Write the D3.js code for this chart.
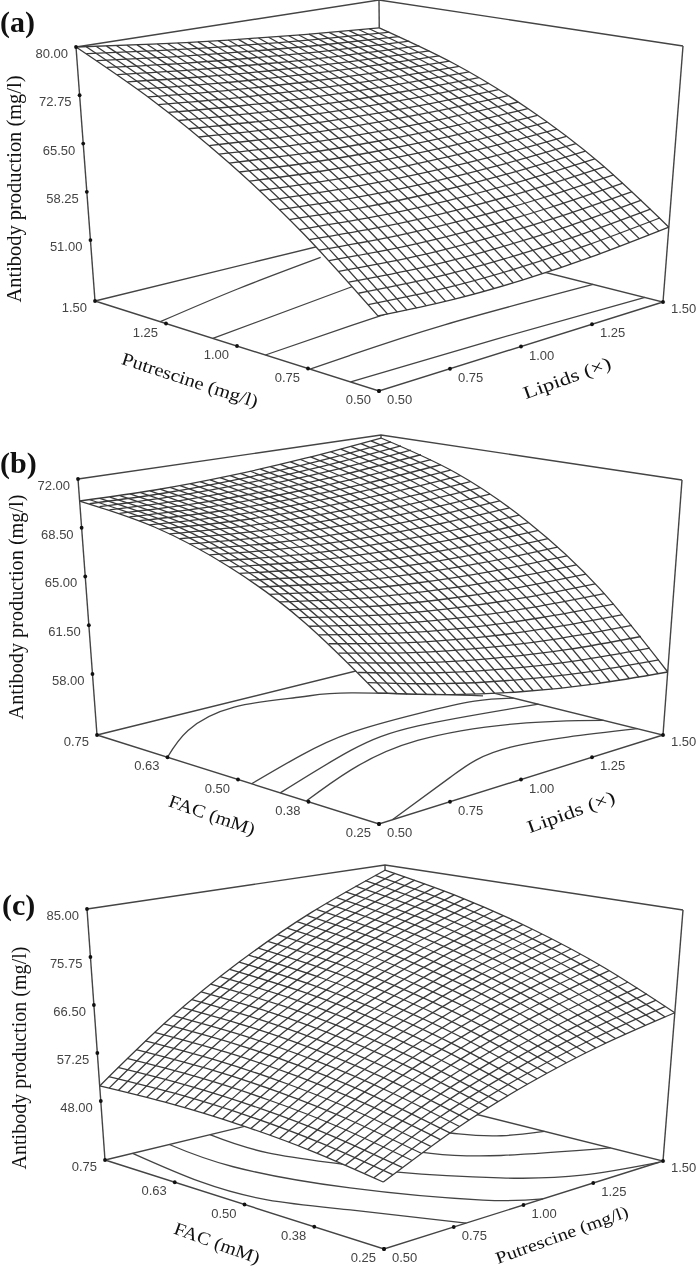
<!DOCTYPE html>
<html>
<head>
<meta charset="utf-8">
<script src="https://cdn.jsdelivr.net/npm/d3@7"></script>
<style>
    body { margin: 0; background: #fff; }
    svg { display: block; filter: blur(0.35px); }
    .tick-label { font-family: "Liberation Sans", Arial, sans-serif; font-size: 13px; fill: #444; }
    .title { font-family: "Liberation Serif", "Times New Roman", serif; fill: #111; }
    .panel { font-family: "Liberation Serif", "Times New Roman", serif; font-size: 30px; font-weight: bold; fill: #111; }
</style>
</head>
<body>
<script>
// Heights are estimates. Corners and outline were read off the picture, the
// inside of each surface was judged from those by eye, not measured per crossing.
// Each row is one mesh line, with heights at the five tick positions of its axis.

var ticks05 = [0.5, 0.75, 1, 1.25, 1.5];
var ticksFac = [0.25, 0.375, 0.5, 0.625, 0.75];
var labels05 = ["0.50", "0.75", "1.00", "1.25", "1.50"];
var labelsFac = ["0.25", "0.38", "0.50", "0.63", "0.75"];

var zTicksA = [51, 58.25, 65.5, 72.75, 80];
var zTicksB = [58, 61.5, 65, 68.5, 72];
var zTicksC = [48, 57.25, 66.5, 75.75, 85];

// (a) lines of constant putrescine, heights along lipids
var meshA_lipids = [
[51.90,51.28,51.25,51.83,53.00],[53.06,52.44,52.39,52.94,54.06],[54.22,53.59,53.52,54.02,55.09],[55.36,54.71,54.62,55.08,56.10],
[56.48,55.82,55.72,56.14,57.10],[57.59,56.92,56.78,57.16,58.07],[58.67,58.00,57.83,58.17,59.02],[59.75,59.06,58.86,59.15,59.94],
[60.80,60.09,59.87,60.12,60.85],[61.84,61.12,60.86,61.07,61.74],[62.86,62.13,61.83,62.00,62.60],[63.87,63.12,62.79,62.89,63.44],
[64.87,64.09,63.73,63.78,64.26],[65.84,65.04,64.65,64.65,65.06],[66.81,65.98,65.55,65.50,65.84],[67.75,66.90,66.43,66.32,66.60],
[68.68,67.80,67.29,67.13,67.34],[69.59,68.69,68.14,67.92,68.05],[70.49,69.56,68.96,68.69,68.74],[71.36,70.41,69.76,69.43,69.42],
[72.23,71.24,70.55,70.16,70.07],[73.08,72.06,71.32,70.87,70.70],[73.91,72.86,72.07,71.55,71.30],[74.73,73.64,72.80,72.22,71.89],
[75.53,74.40,73.52,72.87,72.46],[76.32,75.15,74.21,73.49,73.00],[77.08,75.88,74.89,74.09,73.52],[77.84,76.59,75.54,74.68,74.02],
[78.57,77.28,76.18,75.25,74.50],[79.29,77.96,76.80,75.80,74.96],[80.00,78.63,77.40,76.33,75.40]
];
// (a) lines of constant lipids, heights along putrescine
var meshA_putrescine = [
[51.90,60.28,67.75,74.33,80.00],[51.78,60.15,67.61,74.17,79.81],[51.67,60.04,67.49,74.01,79.61],[51.58,59.94,67.36,73.86,79.43],
[51.49,59.84,67.25,73.72,79.25],[51.42,59.76,67.15,73.58,79.07],[51.35,59.67,67.04,73.44,78.89],[51.30,59.61,66.95,73.31,78.71],
[51.25,59.54,66.86,73.18,78.53],[51.22,59.49,66.78,73.07,78.37],[51.20,59.45,66.70,72.95,78.20],[51.19,59.42,66.64,72.83,78.04],
[51.19,59.39,66.57,72.73,77.87],[51.20,59.37,66.52,72.63,77.71],[51.22,59.36,66.47,72.53,77.56],[51.25,59.36,66.43,72.44,77.40],
[51.29,59.37,66.39,72.35,77.25],[51.34,59.38,66.36,72.27,77.09],[51.41,59.42,66.34,72.19,76.95],[51.48,59.45,66.32,72.11,76.81],
[51.57,59.50,66.32,72.05,76.67],[51.66,59.54,66.32,71.98,76.53],[51.77,59.61,66.32,71.92,76.39],[51.88,59.67,66.33,71.86,76.25],
[52.01,59.75,66.35,71.81,76.13],[52.15,59.84,66.37,71.77,76.00],[52.30,59.93,66.41,71.72,75.88],[52.46,60.04,66.44,71.68,75.75],
[52.63,60.15,66.49,71.65,75.63],[52.81,60.27,66.55,71.62,75.52],[53.00,60.40,66.60,71.60,75.40]
];
var contoursA = [
[[0.5,1.27],[0.85,1.35],[1.21,1.42]],
[[0.5,1.085],[1.06,1.17],[1.3,1.2]],
[[0.5,0.90],[0.83,0.93],[1.2,0.96]],
[[0.5,0.743],[0.65,0.754],[1,0.77],[1.5,0.748]],
[[0.5,0.6],[1,0.59],[1.5,0.564]]
];

// (b) lines of constant FAC, heights along lipids
var meshB_lipids = [
[62.04,60.70,59.60,58.76,58.16],[62.55,61.26,60.22,59.42,58.88],[63.04,61.81,60.82,60.08,59.59],[63.52,62.34,61.41,60.71,60.28],
[63.99,62.85,61.97,61.33,60.94],[64.44,63.35,62.51,61.93,61.59],[64.87,63.84,63.04,62.51,62.22],[65.28,64.30,63.56,63.08,62.84],
[65.69,64.75,64.06,63.62,63.43],[66.07,65.18,64.53,64.15,64.00],[66.43,65.59,65.00,64.66,64.56],[66.79,66.00,65.45,65.15,65.10],
[67.12,66.37,65.88,65.62,65.62],[67.44,66.74,66.28,66.07,66.12],[67.75,67.08,66.68,66.51,66.60],[68.03,67.42,67.05,66.93,67.06],
[68.30,67.72,67.40,67.32,67.50],[68.56,68.03,67.74,67.71,67.93],[68.79,68.30,68.07,68.08,68.34],[69.02,68.57,68.38,68.42,68.72],
[69.23,68.82,68.66,68.76,69.09],[69.42,69.05,68.93,69.06,69.44],[69.60,69.27,69.19,69.36,69.78],[69.75,69.46,69.42,69.64,70.09],
[69.90,69.65,69.64,69.88,70.38],[70.02,69.80,69.84,70.13,70.66],[70.13,69.95,70.03,70.35,70.92],[70.23,70.09,70.20,70.55,71.16],
[70.31,70.21,70.35,70.74,71.38],[70.37,70.30,70.48,70.90,71.58],[70.42,70.38,70.59,71.05,71.76]
];
// (b) lines of constant lipids, heights along FAC
var meshB_fac = [
[62.04,65.49,68.03,69.68,70.42],[61.85,65.35,67.94,69.62,70.40],[61.66,65.20,67.84,69.57,70.39],[61.47,65.07,67.75,69.52,70.37],
[61.29,64.95,67.67,69.48,70.37],[61.12,64.82,67.59,69.44,70.37],[60.94,64.70,67.52,69.41,70.37],[60.78,64.58,67.45,69.38,70.38],
[60.61,64.47,67.38,69.36,70.39],[60.46,64.36,67.32,69.34,70.40],[60.30,64.26,67.27,69.32,70.42],[60.15,64.16,67.21,69.30,70.45],
[60.01,64.07,67.16,69.30,70.48],[59.87,63.98,67.12,69.30,70.51],[59.73,63.89,67.08,69.30,70.55],[59.60,63.81,67.05,69.30,70.59],
[59.47,63.74,67.02,69.32,70.64],[59.35,63.67,66.99,69.33,70.69],[59.23,63.60,66.97,69.35,70.74],[59.12,63.53,66.96,69.37,70.81],
[59.01,63.48,66.94,69.41,70.87],[58.90,63.42,66.93,69.44,70.94],[58.80,63.37,66.93,69.48,71.01],[58.71,63.32,66.93,69.51,71.09],
[58.62,63.29,66.93,69.57,71.17],[58.53,63.25,66.95,69.62,71.26],[58.45,63.22,66.96,69.67,71.35],[58.37,63.19,66.98,69.73,71.45],
[58.30,63.17,67.00,69.80,71.55],[58.23,63.15,67.03,69.87,71.65],[58.16,63.14,67.06,69.94,71.76]
];
var contoursB = [
[[0.5,0.625],[0.706,0.692],[0.945,0.73],[1.135,0.708],[1.254,0.678],[1.464,0.55]],
[[0.5,0.476],[0.762,0.52],[0.994,0.548],[1.235,0.55],[1.414,0.54],[1.5,0.514]],
[[0.5,0.425],[0.882,0.492],[1.155,0.51],[1.5,0.47]],
[[0.5,0.379],[0.762,0.432],[1.062,0.464],[1.34,0.426],[1.5,0.355]],
[[0.547,0.25],[0.895,0.322],[1.179,0.358],[1.5,0.295]]
];

// (c) lines of constant FAC, heights along putrescine
var meshC_putrescine = [
[48.15,53.84,58.58,62.36,65.20],[48.44,54.29,59.18,63.10,66.08],[48.71,54.72,59.76,63.84,66.95],[48.97,55.14,60.33,64.55,67.79],
[49.21,55.54,60.88,65.24,68.62],[49.44,55.93,61.42,65.92,69.43],[49.66,56.30,61.94,66.58,70.22],[49.86,56.66,62.44,67.23,70.99],
[50.06,57.01,62.94,67.85,71.75],[50.24,57.34,63.42,68.47,72.49],[50.40,57.65,63.87,69.06,73.21],[50.55,57.96,64.32,69.65,73.92],
[50.69,58.24,64.75,70.20,74.60],[50.82,58.52,65.16,70.75,75.27],[50.93,58.78,65.56,71.27,75.92],[51.03,59.03,65.94,71.78,76.55],
[51.11,59.25,66.30,72.27,77.16],[51.18,59.47,66.65,72.75,77.76],[51.24,59.67,66.99,73.22,78.34],[51.28,59.85,67.31,73.65,78.90],
[51.32,60.03,67.61,74.09,79.44],[51.34,60.19,67.91,74.50,79.97],[51.34,60.33,68.18,74.90,80.48],[51.33,60.46,68.43,75.28,80.97],
[51.31,60.57,68.68,75.63,81.44],[51.28,60.67,68.90,75.98,81.89],[51.23,60.76,69.11,76.31,82.33],[51.17,60.84,69.31,76.63,82.75],
[51.09,60.88,69.49,76.91,83.15],[51.00,60.93,69.65,77.20,83.54],[50.90,60.95,69.80,77.45,83.90]
];
// (c) lines of constant putrescine, heights along FAC
var meshC_fac = [
[48.15,49.96,51.03,51.34,50.90],[48.96,50.93,52.16,52.61,52.31],[49.76,51.89,53.27,53.87,53.70],[50.54,52.84,54.35,55.10,55.06],
[51.30,53.75,55.43,56.31,56.41],[52.05,54.66,56.47,57.50,57.74],[52.78,55.54,57.51,58.67,59.04],[53.49,56.40,58.53,59.83,60.32],
[54.18,57.25,59.52,60.96,61.58],[54.86,58.08,60.49,62.07,62.82],[55.52,58.90,61.45,63.16,64.04],[56.17,59.69,62.38,64.23,65.23],
[56.79,60.47,63.30,65.28,66.40],[57.40,61.23,64.21,66.31,67.56],[58.00,61.97,65.08,67.32,68.69],[58.58,62.69,65.94,68.31,69.80],
[59.14,63.40,66.78,69.28,70.89],[59.68,64.08,67.61,70.23,71.96],[60.20,64.76,68.40,71.16,73.00],[60.71,65.40,69.19,72.06,74.03],
[61.21,66.04,69.95,72.95,75.04],[61.68,66.65,70.70,73.82,76.02],[62.14,67.25,71.43,74.67,76.98],[62.58,67.82,72.14,75.50,77.92],
[63.01,68.38,72.82,76.30,78.84],[63.41,68.93,73.49,77.09,79.74],[63.81,69.46,74.14,77.86,80.61],[64.18,69.97,74.77,78.61,81.46],
[64.54,70.45,75.39,79.33,82.30],[64.88,70.92,75.98,80.04,83.11],[65.20,71.38,76.55,80.73,83.90]
];
var contoursC = [
[[0.598,0.75],[0.553,0.606],[0.571,0.495],[0.665,0.393],[0.795,0.25]],
[[0.728,0.75],[0.71,0.626],[0.797,0.46],[0.96,0.303],[1.07,0.25]],
[[0.872,0.75],[0.865,0.642],[0.935,0.534],[0.981,0.467],[1.125,0.355],[1.28,0.285],[1.485,0.25]],
[[1.1,0.6],[1.16,0.498],[1.268,0.426],[1.5,0.345]],
[[1.3,0.6],[1.336,0.537],[1.398,0.491],[1.5,0.465]]
];

var svg = d3.select("body").append("svg").attr("width", 699).attr("height", 1268);

// unit square -> quad, ticks in the reference are evenly spaced so this is bilinear
function quadMap(q) {
    return function(u, v) {
        return [0, 1].map(function(n) {
            return q[0][n] * (1 - u) * (1 - v) + q[1][n] * u * (1 - v) + q[2][n] * u * v + q[3][n] * (1 - u) * v;
        });
    };
}

function drawChart(c) {
    var g = svg.append("g");
    var xScale = d3.scaleLinear().domain([c.xTicks[0], c.xTicks[4]]).range([0, 1]);
    var yScale = d3.scaleLinear().domain([c.yTicks[0], c.yTicks[4]]).range([0, 1]);
    var zScale = d3.scaleLinear().domain([c.zFloor, c.zTicks[4]]).range([0, 1]);
    var floorMap = quadMap(c.floor);
    var topMap = quadMap(c.top);

    function project(x, y, z) {
        var p0 = floorMap(xScale(x), yScale(y));
        var p1 = topMap(xScale(x), yScale(y));
        var w = zScale(z);
        return [p0[0] + (p1[0] - p0[0]) * w, p0[1] + (p1[1] - p0[1]) * w];
    }

    var xLine = d3.scaleLinear().domain([0, 30]).range(xScale.domain());
    var yLine = d3.scaleLinear().domain([0, 30]).range(yScale.domain());
    var curve = d3.line().curve(d3.curveNatural);
    var straight = d3.line();

    var rowsX = c.meshX.map(function(row, j) {
        return row.map(function(z, k) { return project(c.xTicks[k], yLine(j), z); });
    });
    var rowsY = c.meshY.map(function(row, i) {
        return row.map(function(z, k) { return project(xLine(i), c.yTicks[k], z); });
    });

    // walls and floor
    var xMin = c.xTicks[0], xMax = c.xTicks[4], yMin = c.yTicks[0], yMax = c.yTicks[4];
    var zLo = c.zFloor, zHi = c.zTicks[4];
    var frame = [
        [[xMin, yMax, zHi], [xMax, yMax, zHi], [xMax, yMin, zHi]],
        [[xMin, yMax, zLo], [xMin, yMax, zHi]],
        [[xMax, yMin, zLo], [xMax, yMin, zHi]],
        [[xMax, yMax, zLo], [xMax, yMax, zHi]],
        [[xMin, yMax, zLo], [xMin, yMin, zLo], [xMax, yMin, zLo], [xMax, yMax, zLo], [xMin, yMax, zLo]]
    ];
    g.selectAll("path.frame").data(frame).enter().append("path")
        .attr("class", "frame")
        .attr("d", function(d) { return straight(d.map(function(p) { return project(p[0], p[1], p[2]); })); })
        .attr("fill", "none").attr("stroke", "#444").attr("stroke-width", 1.4);

    g.selectAll("path.contour").data(c.contours).enter().append("path")
        .attr("class", "contour")
        .attr("d", function(d) { return curve(d.map(function(p) { return project(p[0], p[1], zLo); })); })
        .attr("fill", "none").attr("stroke", "#444").attr("stroke-width", 1.3);

    // white sheet under the mesh hides what lies behind the surface
    var outline = curve(rowsX[0])
        + curve(rowsY[30]).replace(/^M/, "L")
        + curve(rowsX[30].slice().reverse()).replace(/^M/, "L")
        + curve(rowsY[0].slice().reverse()).replace(/^M/, "L") + "Z";
    g.append("path").attr("d", outline).attr("fill", "#fff");

    g.selectAll("path.mesh").data(rowsX.concat(rowsY)).enter().append("path")
        .attr("class", "mesh")
        .attr("d", curve)
        .attr("fill", "none").attr("stroke", "#3a3a3a").attr("stroke-width", 1.3);

    // ticks
    var dots = [];
    c.zTicks.forEach(function(z) {
        var p = project(xMin, yMax, z);
        dots.push(p);
        g.append("text").attr("class", "tick-label")
            .attr("x", p[0] - 8).attr("y", p[1] + 11).attr("text-anchor", "end").text(z.toFixed(2));
    });
    c.yTicks.forEach(function(y, k) {
        var p = project(xMin, y, zLo);
        dots.push(p);
        g.append("text").attr("class", "tick-label")
            .attr("x", p[0] - 8).attr("y", p[1] + (k == 4 ? 11 : 13)).attr("text-anchor", "end").text(c.yLabels[k]);
    });
    c.xTicks.forEach(function(x, k) {
        var p = project(x, yMin, zLo);
        dots.push(p);
        g.append("text").attr("class", "tick-label")
            .attr("x", p[0] + 8).attr("y", p[1] + (k == 4 ? 11 : 13)).attr("text-anchor", "start").text(c.xLabels[k]);
    });
    g.selectAll("circle").data(dots).enter().append("circle")
        .attr("cx", function(d) { return d[0]; }).attr("cy", function(d) { return d[1]; })
        .attr("r", 1.9).attr("fill", "#111");

    // titles
    c.titles.forEach(function(t) {
        g.append("text").attr("class", "title")
            .attr("transform", "translate(" + t.x + "," + t.y + ") rotate(" + t.angle + ")")
            .attr("text-anchor", "middle").attr("dominant-baseline", "central")
            .attr("font-size", t.size).attr("textLength", t.len).attr("lengthAdjust", "spacingAndGlyphs")
            .text(t.text);
    });
    g.append("text").attr("class", "panel").attr("x", c.panel[0]).attr("y", c.panel[1]).text(c.panel[2]);
}

drawChart({
    xTicks: ticks05, yTicks: ticks05, xLabels: labels05, yLabels: labels05,
    zTicks: zTicksA, zFloor: 41.85,
    meshX: meshA_lipids, meshY: meshA_putrescine, contours: contoursA,
    floor: [[379, 391], [663, 302], [381, 231], [95, 301]],
    top: [[375, 106], [683, 46], [379, 0], [76, 47]],
    panel: [0, 32, "(a)"],
    titles: [
        { text: "Antibody production (mg/l)", x: 14, y: 189, angle: -90, size: 21, len: 227 },
        { text: "Putrescine (mg/l)", x: 190, y: 380, angle: 18, size: 18, len: 142 },
        { text: "Lipids (\u00d7)", x: 567, y: 378, angle: -20, size: 18, len: 92 }
    ]
});

drawChart({
    xTicks: ticks05, yTicks: ticksFac, xLabels: labels05, yLabels: labelsFac,
    zTicks: zTicksB, zFloor: 53.62,
    meshX: meshB_lipids, meshY: meshB_fac, contours: contoursB,
    floor: [[379, 824], [663, 735], [380, 665], [97, 735]],
    top: [[376, 538], [682, 480], [381, 435], [78, 479]],
    panel: [0, 473, "(b)"],
    titles: [
        { text: "Antibody production (mg/l)", x: 16, y: 607, angle: -90, size: 21, len: 225 },
        { text: "FAC (mM)", x: 212, y: 815, angle: 19, size: 18, len: 90 },
        { text: "Lipids (\u00d7)", x: 571, y: 812, angle: -20, size: 18, len: 92 }
    ]
});

drawChart({
    xTicks: ticks05, yTicks: ticksFac, xLabels: labels05, yLabels: labelsFac,
    zTicks: zTicksC, zFloor: 36.63,
    meshX: meshC_putrescine, meshY: meshC_fac, contours: contoursC,
    floor: [[384, 1249], [663, 1161], [387, 1092], [105, 1160]],
    top: [[381, 968], [683, 910], [385, 865], [87, 909]],
    panel: [2, 915, "(c)"],
    titles: [
        { text: "Antibody production (mg/l)", x: 19, y: 1058, angle: -90, size: 21, len: 223 },
        { text: "FAC (mM)", x: 217, y: 1243, angle: 20, size: 18, len: 90 },
        { text: "Putrescine (mg/l)", x: 562, y: 1235, angle: -20, size: 17, len: 140 }
    ]
});
</script>
</body>
</html>
